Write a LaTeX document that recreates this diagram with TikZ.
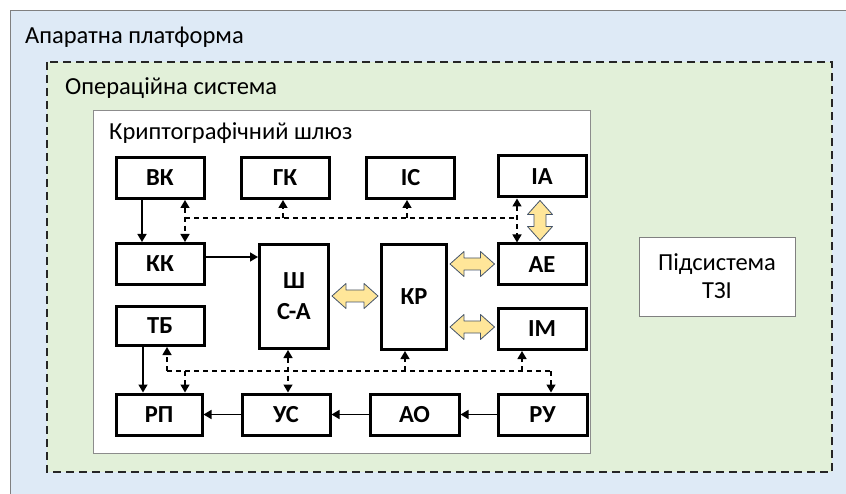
\documentclass[tikz,border=0pt]{standalone}
\usepackage{fontspec}
\setmainfont{Carlito}
\usetikzlibrary{calc,arrows.meta}
\definecolor{bluebg}{RGB}{222,234,246}
\definecolor{greenbg}{RGB}{226,240,217}
\definecolor{fatfill}{RGB}{255,230,153}
\definecolor{fatline}{RGB}{68,84,106}
\tikzset{
  blk/.style={draw, line width=3pt, fill=white, font=\fontsize{24.5}{26}\selectfont\bfseries,
    minimum width=88pt, minimum height=41pt, inner sep=0pt},
  bus/.style={line width=1.4pt, dash pattern=on 5pt off 4pt, >={Triangle[width=9pt,length=8pt]}},
  sol/.style={line width=1.6pt, >={Triangle[width=9pt,length=8pt]}},
  fat/.style={fill=fatfill, draw=fatline, line width=0.8pt, line join=round},
  lbl/.style={anchor=west, font=\fontsize{24.5}{28}\selectfont, inner sep=0pt}
}
\newcommand\fatH[3]{%
  \path[fat] let \p1=(#1.east), \p2=(#2.west), \n1={\x1+2pt}, \n2={\x2-2pt}, \n3={-#3pt} in
  (\n1,\n3) -- (\n1+14pt,\n3+12.5pt) -- (\n1+14pt,\n3+6pt) -- (\n2-14pt,\n3+6pt) -- (\n2-14pt,\n3+12.5pt)
  -- (\n2,\n3) -- (\n2-14pt,\n3-12.5pt) -- (\n2-14pt,\n3-6pt) -- (\n1+14pt,\n3-6pt) -- (\n1+14pt,\n3-12.5pt) -- cycle;}
\newcommand\fatV[3]{%
  \path[fat] let \p1=(#1.south), \p2=(#2.north), \n1={\y1-2pt}, \n2={\y2+2pt}, \n3={#3pt} in
  (\n3,\n1) -- (\n3+12.5pt,\n1-14pt) -- (\n3+6pt,\n1-14pt) -- (\n3+6pt,\n2+14pt) -- (\n3+12.5pt,\n2+14pt)
  -- (\n3,\n2) -- (\n3-12.5pt,\n2+14pt) -- (\n3-6pt,\n2+14pt) -- (\n3-6pt,\n1-14pt) -- (\n3-12.5pt,\n1-14pt) -- cycle;}
\begin{document}
\begin{tikzpicture}[x=1pt,y=-1pt]
\useasboundingbox (0,0) rectangle (846,494);
\fill[white] (0,0) rectangle (846,494);
\path[draw=black!50, fill=bluebg, line width=0.8pt] (10,10) rectangle (900,540);
\path[draw=black!85, fill=greenbg, line width=1.6pt, dash pattern=on 8pt off 5pt] (47,62) rectangle (832,472);
\path[draw=black!45, fill=white, line width=0.8pt] (93,110) rectangle (590,453);
\node[lbl] (tplat) at (25,37) {Апаратна платформа};
\node[lbl] (tos) at (65,88) {Операційна система};
\node[lbl] (tgw) at (109,133) {Криптографічний шлюз};
\node[draw=black!50, fill=white, line width=0.8pt, minimum width=156pt, minimum height=79pt,
  align=center, font=\fontsize{24.5}{28}\selectfont] (tzi) at (717,276.5) {Підсистема\\ТЗІ};

\node[blk] (vk) at (160,178) {ВК};
\node[blk] (gk) at (285,178) {ГК};
\node[blk] (ic) at (410.5,178) {ІС};
\node[blk] (ia) at (542,176.5) {ІА};
\node[blk] (kk) at (160,264) {КК};
\node[blk, minimum width=69pt, minimum height=104pt, align=center,
  font=\fontsize{24.5}{31}\selectfont\bfseries] (shsa) at (294,296.5) {Ш\\С-А};
\node[blk, minimum width=65pt, minimum height=105pt] (kr) at (414,297) {КР};
\node[blk] (ae) at (542,264.5) {АЕ};
\node[blk] (im) at (542,329) {ІМ};
\node[blk, minimum height=39pt] (tb) at (160,326) {ТБ};
\node[blk, minimum width=86pt] (rp) at (159,414.5) {РП};
\node[blk] (us) at (286,414.5) {УС};
\node[blk, minimum width=89pt] (ao) at (414.5,414.5) {АО};
\node[blk, minimum width=89pt] (ru) at (542.5,414.5) {РУ};

% top dashed bus
\coordinate (tb1) at (185,218);
\coordinate (tb2) at (517,218);
\draw[bus,<->] (vk.south -| tb1) -- (kk.north -| tb1);
\draw[bus] (tb1) -- (tb2);
\draw[bus,<->] (ia.south -| tb2) -- (ae.north -| tb2);
\coordinate (tg) at (283,218);
\coordinate (ti) at (407,218);
\draw[bus,->] (tg) -- (tg |- gk.south);
\draw[bus,->] (ti) -- (ti |- ic.south);

% bottom dashed bus
\coordinate (bb1) at (167,371);
\coordinate (bb2) at (551,371);
\coordinate (brp) at (185,371);
\coordinate (bsh) at (288,371);
\coordinate (bkr) at (405,371);
\coordinate (bim) at (522,371);
\draw[bus] (bb1) -- (bb2);
\draw[bus,->] (bb1) -- (bb1 |- tb.south);
\draw[bus,->] (brp) -- (brp |- rp.north);
\draw[bus,<->] (bsh |- shsa.south) -- (bsh |- us.north);
\draw[bus,->] (bkr) -- (bkr |- kr.south);
\draw[bus,->] (bim) -- (bim |- im.south);
\draw[bus,->] (bb2) -- (bb2 |- ru.north);

% solid arrows
\coordinate (v1) at ($(vk.south)+(-18,0)$);
\draw[sol,->] (v1) -- (v1 |- kk.north);
\coordinate (k1) at ($(kk.east)+(0,-7)$);
\draw[sol,->] (k1) -- (k1 -| shsa.west);
\coordinate (t1) at ($(tb.south)+(-17,0)$);
\draw[sol,->] (t1) -- (t1 |- rp.north);
\draw[sol,->] (us.west) -- (rp.east);
\draw[sol,->] (ao.west) -- (us.east);
\draw[sol,->] (ru.west) -- (ao.east);

% fat double arrows
\fatH{shsa}{kr}{296}
\fatH{kr}{ae}{264}
\fatH{kr}{im}{327}
\fatV{ia}{ae}{540}
\end{tikzpicture}
\end{document}
